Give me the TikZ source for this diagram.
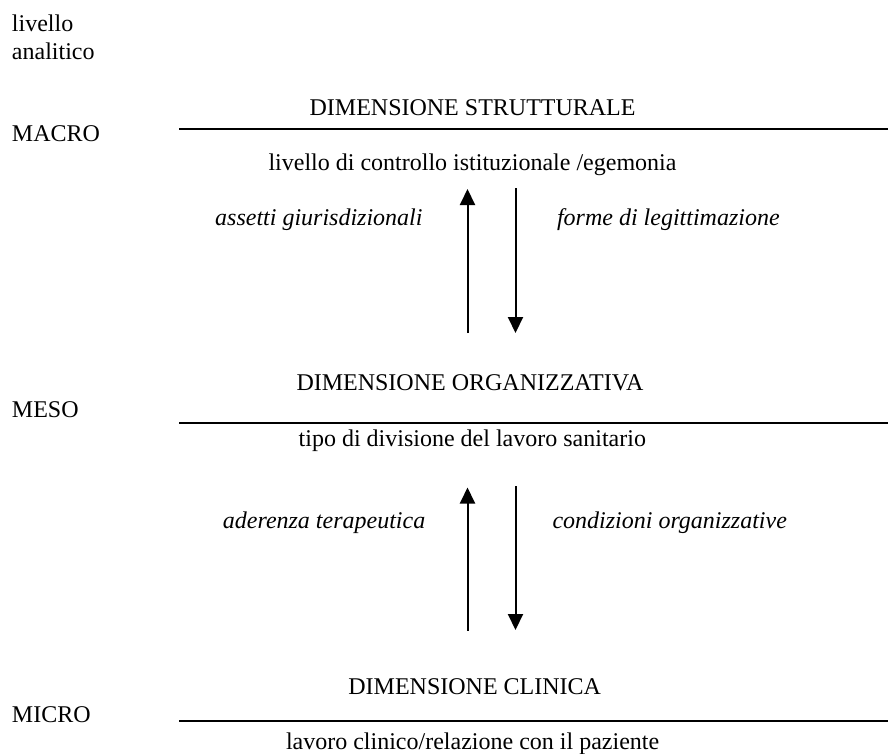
\documentclass[tikz,border=0pt]{standalone}
\usepackage{fontspec}
\setmainfont{Liberation Serif}
\usetikzlibrary{arrows.meta}
\tikzset{
  txt/.style={inner sep=0pt, outer sep=0pt, anchor=base west, font=\fontsize{24}{28}\selectfont},
  itxt/.style={txt, font=\fontsize{24}{28}\selectfont\itshape},
  rule/.style={line width=2pt},
  flow/.style={line width=2pt, -{Triangle[length=16pt,width=15pt]}}
}
\begin{document}
\begin{tikzpicture}[x=1pt,y=-1pt]
\useasboundingbox (0,0) rectangle (888,753);
% left labels
\node[txt] (liv) at (12,31.7) {livello};
\node[txt] (ana) at (12,59.3) {analitico};
\node[txt] (macro) at (12,141.7) {MACRO};
\node[txt] (meso) at (12,417.3) {MESO};
\node[txt] (micro) at (12,722.5) {MICRO};
% rules
\coordinate (r1a) at (179,129.3); \coordinate (r1b) at (888,129.3);
\coordinate (r2a) at (179,422.7); \coordinate (r2b) at (888,422.7);
\coordinate (r3a) at (179,720.7); \coordinate (r3b) at (888,720.7);
\draw[rule] (r1a) -- (r1b);
\draw[rule] (r2a) -- (r2b);
\draw[rule] (r3a) -- (r3b);
% macro
\node[txt] (dstr) at (309.6,115.7) {DIMENSIONE STRUTTURALE};
\node[txt] (ctrl) at (268.5,170) {livello di controllo istituzionale /egemonia};
\node[itxt] (giur) at (215.2,225) {assetti giurisdizionali};
\node[itxt] (legit) at (557,225) {forme di legittimazione};
\coordinate (u1a) at (467.5,333); \coordinate (u1b) at (467.5,189);
\coordinate (d1a) at (515.5,188); \coordinate (d1b) at (515.5,333);
\draw[flow] (u1a) -- (u1b);
\draw[flow] (d1a) -- (d1b);
% meso
\node[txt] (dorg) at (296.5,390.7) {DIMENSIONE ORGANIZZATIVA};
\node[txt] (tipo) at (298.7,446) {tipo di divisione del lavoro sanitario};
\node[itxt] (ader) at (222.9,528.3) {aderenza terapeutica};
\node[itxt] (cond) at (552.5,528.3) {condizioni organizzative};
\coordinate (u2a) at (467.5,630.5); \coordinate (u2b) at (467.5,487.5);
\coordinate (d2a) at (515.5,486); \coordinate (d2b) at (515.5,630);
\draw[flow] (u2a) -- (u2b);
\draw[flow] (d2a) -- (d2b);
% micro
\node[txt] (dcli) at (348.4,694.3) {DIMENSIONE CLINICA};
\node[txt] (lav) at (286,749.3) {lavoro clinico/relazione con il paziente};
\end{tikzpicture}
\end{document}
